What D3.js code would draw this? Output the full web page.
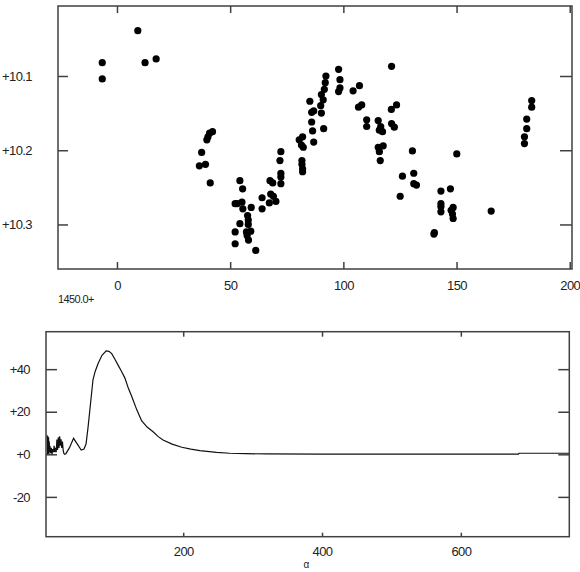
<!DOCTYPE html>
<html>
<head>
<meta charset="utf-8">
<script src="https://cdn.jsdelivr.net/npm/d3@7"></script>
<style>
  body { margin: 0; background: #fff; }
  text { font-family: "Liberation Sans", Arial, sans-serif; fill: #222; letter-spacing: -0.6px; }
  .tick line { stroke: #404040; stroke-width: 1.5; }
  .frame { fill: none; stroke: #404040; stroke-width: 1.5; }
</style>
</head>
<body>
<script>
// top panel: time (days after JD 1450.0) vs magnitude
var epoch = [-6.5, -6.5, 9.2, 12.4, 17.3,
  36.4, 37.4, 39.1, 39.7, 40.2, 40.9, 42.2, 41.2,
  52.2, 53.1, 52.2, 52.2, 54.3, 54.3, 55.2, 55.5, 55.6, 57.7, 58.0, 58.0, 57.2, 57.5, 58.1, 59.1, 59.3, 61.3,
  64.1, 64.1, 67.6, 68.8, 67.9, 69.1, 67.3, 70.2, 72.4, 72.0, 72.4, 72.4, 72.4,
  80.5, 82.0, 81.5, 82.3, 81.7, 81.7, 82.0, 82.0,
  85.2, 86.0, 86.9, 86.0, 86.4, 86.9, 90.3, 90.0, 90.3, 91.1, 91.6, 92.0, 92.3, 91.3,
  97.9, 98.5, 98.5, 97.9, 104.3, 107.1, 106.7, 108.1, 110.3, 110.3,
  115.4, 115.9, 117.3, 115.4, 115.9, 117.6, 116.3, 116.5,
  121.3, 121.2, 123.5, 121.3, 122.5, 130.5, 131.1, 131.1, 132.3, 126.1, 125.1,
  140.2, 140.0, 143.1, 143.1, 143.1, 143.1, 147.3, 148.5, 147.6, 148.2, 148.5, 150.1,
  165.3, 180.0, 180.0, 181.0, 181.0, 183.2, 183.2];
var mag = [10.082, 10.104, 10.039, 10.082, 10.077,
  10.221, 10.203, 10.219, 10.186, 10.182, 10.177, 10.175, 10.244,
  10.272, 10.272, 10.310, 10.326, 10.241, 10.299, 10.270, 10.252, 10.279, 10.288, 10.294, 10.300, 10.310, 10.315, 10.321, 10.309, 10.277, 10.335,
  10.264, 10.279, 10.241, 10.244, 10.259, 10.262, 10.271, 10.269, 10.202, 10.214, 10.231, 10.236, 10.245,
  10.186, 10.182, 10.193, 10.196, 10.214, 10.219, 10.225, 10.229,
  10.134, 10.149, 10.147, 10.162, 10.174, 10.189, 10.125, 10.140, 10.150, 10.132, 10.118, 10.109, 10.100, 10.171,
  10.091, 10.105, 10.116, 10.121, 10.120, 10.113, 10.142, 10.139, 10.159, 10.168,
  10.160, 10.173, 10.175, 10.196, 10.202, 10.194, 10.214, 10.168,
  10.087, 10.145, 10.139, 10.164, 10.169, 10.201, 10.231, 10.245, 10.247, 10.235, 10.262,
  10.311, 10.313, 10.255, 10.272, 10.276, 10.283, 10.252, 10.277, 10.281, 10.286, 10.292, 10.205,
  10.282, 10.182, 10.191, 10.158, 10.171, 10.133, 10.142];
var epochTicks = [0, 50, 100, 150, 200];
var magTicks = [10.1, 10.2, 10.3];

// bottom panel: periodogram
var alpha = [4, 4.5, 5, 5.5, 6, 6.5, 7, 7.5, 8, 9, 10, 11, 12, 13, 14, 15, 16, 17, 18, 19,
  20, 21, 22, 23, 24, 25, 26, 27, 28, 29, 31, 36, 42, 47, 53, 57, 60, 63, 66.5, 70, 73, 77.5,
  83, 89, 93, 97, 101, 106, 111, 116, 121, 126, 133, 140, 148, 157, 164, 171, 184, 198, 211,
  224, 248, 267, 290, 320, 400, 500, 600, 683, 684, 756];
var power = [9, 0, 8.5, 0.5, 8, 0, 6, 1, 4, 0.5, 3, 0, 2.5, 1, 4, 1, 3, 1, 7, 2,
  8, 3, 8.5, 4, 7, 3, 6, 2, 0.5, 0, 0.3, 3, 7.5, 5, 2, 2.5, 4.8, 13, 24, 35, 38.8, 42.8,
  46.5, 48.6, 48.4, 47.3, 45, 42, 39, 35.8, 31, 27, 21, 15.8, 12.8, 10.5, 8.3, 6.7, 4.8, 3.3, 2.4,
  1.7, 0.9, 0.5, 0.3, 0.2, 0.1, 0.1, 0.1, 0.1, 0.5, 0.5];
var alphaTicks = [200, 400, 600];
var powerTicks = [40, 20, 0, -20];

var svg = d3.select('body').append('svg')
  .attr('width', 580)
  .attr('height', 572);

function plusFmt(d){
  return d >= 0 ? '+' + d : String(d);
}

// ---- top panel ----
var p1 = {left: 58, top: 6, right: 572, bottom: 269};
var x1 = d3.scaleLinear().domain([-26.05, 201]).range([p1.left, p1.right]);
var y1 = d3.scaleLinear().domain([10.0057, 10.36]).range([p1.top, p1.bottom]);

var g1 = svg.append('g');

g1.append('g')
  .attr('transform', 'translate(0,' + p1.bottom + ')')
  .call(d3.axisBottom(x1).tickValues(epochTicks).tickSize(-7).tickPadding(12))
  .call(function(a){ a.select('.domain').remove(); });
g1.append('g')
  .attr('transform', 'translate(0,' + p1.top + ')')
  .call(d3.axisTop(x1).tickValues(epochTicks).tickSize(-7).tickFormat(''))
  .call(function(a){ a.select('.domain').remove(); });
g1.append('g')
  .attr('transform', 'translate(' + p1.left + ',0)')
  .call(d3.axisLeft(y1).tickValues(magTicks).tickSize(-10).tickPadding(26)
    .tickFormat(function(d){ return '+' + d.toFixed(1); }))
  .call(function(a){ a.select('.domain').remove(); });
g1.append('g')
  .attr('transform', 'translate(' + p1.right + ',0)')
  .call(d3.axisRight(y1).tickValues(magTicks).tickSize(-12).tickFormat(''))
  .call(function(a){ a.select('.domain').remove(); });

g1.selectAll('text').attr('font-size', 13).attr('font-family', null);

g1.append('rect').classed('frame', true)
  .attr('x', p1.left).attr('y', p1.top)
  .attr('width', p1.right - p1.left).attr('height', p1.bottom - p1.top);

g1.selectAll('.dot')
  .data(epoch)
  .enter()
  .append('circle')
  .classed('dot', true)
  .attr('cx', function(d){ return x1(d); })
  .attr('cy', function(d, i){ return y1(mag[i]); })
  .attr('r', 3.6)
  .attr('fill', '#000');

svg.append('text')
  .attr('x', p1.left)
  .attr('y', 303)
  .attr('font-size', 11)
  .text('1450.0+');

// ---- bottom panel ----
var p2 = {left: 46, top: 331.7, right: 569.3, bottom: 536.7};
var x2 = d3.scaleLinear().domain([2.3, 756.3]).range([p2.left, p2.right]);
var y2 = d3.scaleLinear().domain([57.6, -38.7]).range([p2.top, p2.bottom]);

var g2 = svg.append('g');

g2.append('g')
  .attr('transform', 'translate(0,' + p2.bottom + ')')
  .call(d3.axisBottom(x2).tickValues(alphaTicks).tickSize(-4).tickPadding(10))
  .call(function(a){ a.select('.domain').remove(); });
g2.append('g')
  .attr('transform', 'translate(0,' + p2.top + ')')
  .call(d3.axisTop(x2).tickValues(alphaTicks).tickSize(-5).tickFormat(''))
  .call(function(a){ a.select('.domain').remove(); });
g2.append('g')
  .attr('transform', 'translate(' + p2.left + ',0)')
  .call(d3.axisLeft(y2).tickValues(powerTicks).tickSize(-11).tickPadding(16).tickFormat(plusFmt))
  .call(function(a){ a.select('.domain').remove(); });
g2.append('g')
  .attr('transform', 'translate(' + p2.right + ',0)')
  .call(d3.axisRight(y2).tickValues(powerTicks).tickSize(-11).tickFormat(''))
  .call(function(a){ a.select('.domain').remove(); });

g2.selectAll('text').attr('font-size', 13).attr('font-family', null);

var line = d3.line()
  .x(function(d){ return x2(d); })
  .y(function(d, i){ return y2(power[i]); });

g2.append('path')
  .attr('d', line(alpha))
  .attr('fill', 'none')
  .attr('stroke', '#111')
  .attr('stroke-width', 1.2);

g2.append('rect').classed('frame', true)
  .attr('x', p2.left).attr('y', p2.top)
  .attr('width', p2.right - p2.left).attr('height', p2.bottom - p2.top);

svg.append('text')
  .attr('x', 306)
  .attr('y', 568)
  .attr('text-anchor', 'middle')
  .attr('font-size', 10)
  .text('α');
</script>
</body>
</html>
